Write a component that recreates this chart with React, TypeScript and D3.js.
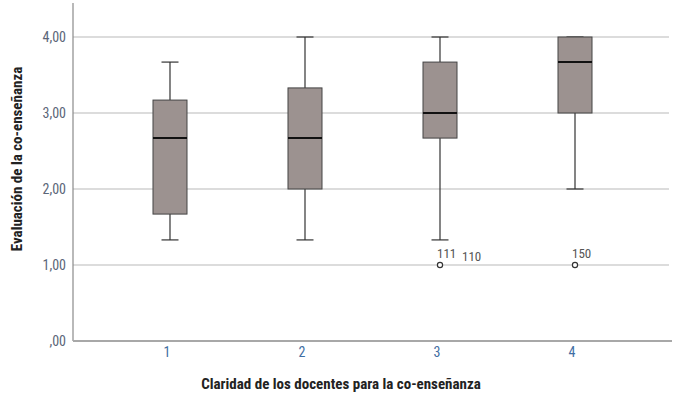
import React from "react";
import * as d3 from "d3";

const categories = ["1", "2", "3", "4"];
const whiskerLow = [1.33, 1.33, 1.33, 2.0];
const q1 = [1.67, 2.0, 2.67, 3.0];
const median = [2.67, 2.67, 3.0, 3.67];
const q3 = [3.17, 3.33, 3.67, 4.0];
const whiskerHigh = [3.67, 4.0, 4.0, 4.0];
const outliers = [
  { cat: "3", value: 1.0, labels: ["111", "110"] },
  { cat: "4", value: 1.0, labels: ["150"] },
];
const yTicks = [0, 1, 2, 3, 4];
const yTickLabels = [",00", "1,00", "2,00", "3,00", "4,00"];

const W = 678;
const H = 397;
const left = 73;
const right = 672;
const top = 3;
const bottom = 341;

const narrow = "'Liberation Sans Narrow', 'Arial Narrow', 'Roboto Condensed', 'Liberation Sans', Arial, sans-serif";

export default function App() {
  const x = d3.scalePoint<string>().domain(categories).range([left, right]).padding(0.7185);
  const y = d3.scaleLinear().domain([0, 4]).range([bottom, 37]);
  const boxW = 34;
  const capW = 17;

  return (
    <svg width={W} height={H} style={{ position: "absolute", left: 0, top: 0, background: "#fff" }}>
      {yTicks.slice(1).map((t) => (
        <line key={t} x1={left} x2={669} y1={y(t)} y2={y(t)} stroke="#dcdcdc" strokeWidth={2} />
      ))}
      <line x1={left} x2={left} y1={top} y2={bottom} stroke="#8a8a8a" strokeWidth={1.2} />
      <line x1={left} x2={right} y1={bottom} y2={bottom} stroke="#a8a8a8" strokeWidth={2} />
      {yTicks.map((t, i) => (
        <text key={t} x={66} y={y(t) + 5} textAnchor="end" fontFamily={narrow} fontSize={14} fill="#5b6678">
          {yTickLabels[i]}
        </text>
      ))}
      {categories.map((c) => (
        <text key={c} x={(x(c) as number) - 3} y={357} textAnchor="middle" fontFamily={narrow} fontSize={14} fill="#3f6ea3">
          {c}
        </text>
      ))}
      {categories.map((c, i) => {
        const cx = x(c) as number;
        return (
          <g key={c}>
            <line x1={cx} x2={cx} y1={y(whiskerLow[i])} y2={y(q1[i])} stroke="#333" strokeWidth={1.2} />
            <line x1={cx} x2={cx} y1={y(q3[i])} y2={y(whiskerHigh[i])} stroke="#333" strokeWidth={1.2} />
            <line x1={cx - capW / 2} x2={cx + capW / 2} y1={y(whiskerLow[i])} y2={y(whiskerLow[i])} stroke="#333" strokeWidth={1.2} />
            <line x1={cx - capW / 2} x2={cx + capW / 2} y1={y(whiskerHigh[i])} y2={y(whiskerHigh[i])} stroke="#333" strokeWidth={1.2} />
            <rect x={cx - boxW / 2} y={y(q3[i])} width={boxW} height={y(q1[i]) - y(q3[i])} fill="#9c9290" stroke="#444" strokeWidth={1} />
            <line x1={cx - boxW / 2} x2={cx + boxW / 2} y1={y(median[i])} y2={y(median[i])} stroke="#111" strokeWidth={2} />
          </g>
        );
      })}
      {outliers.map((o) => {
        const cx = x(o.cat) as number;
        const cy = y(o.value);
        return (
          <g key={o.cat}>
            <circle cx={cx} cy={cy} r={2.6} fill="#fff" stroke="#333" strokeWidth={1.2} />
            {o.labels.map((l, j) => (
              <text key={l} x={cx - 3 + j * 25} y={cy - (j === 0 ? 7 : 4)} fontFamily={narrow} fontSize={13} fill="#555">
                {l}
              </text>
            ))}
          </g>
        );
      })}
      <text x={341} y={389} textAnchor="middle" fontFamily={narrow} fontSize={15} fontWeight="bold" fill="#222">
        Claridad de los docentes para la co-enseñanza
      </text>
      <text transform={`translate(22,159) rotate(-90)`} textAnchor="middle" fontFamily={narrow} fontSize={15} fontWeight="bold" fill="#222">
        Evaluación de la co-enseñanza
      </text>
    </svg>
  );
}
